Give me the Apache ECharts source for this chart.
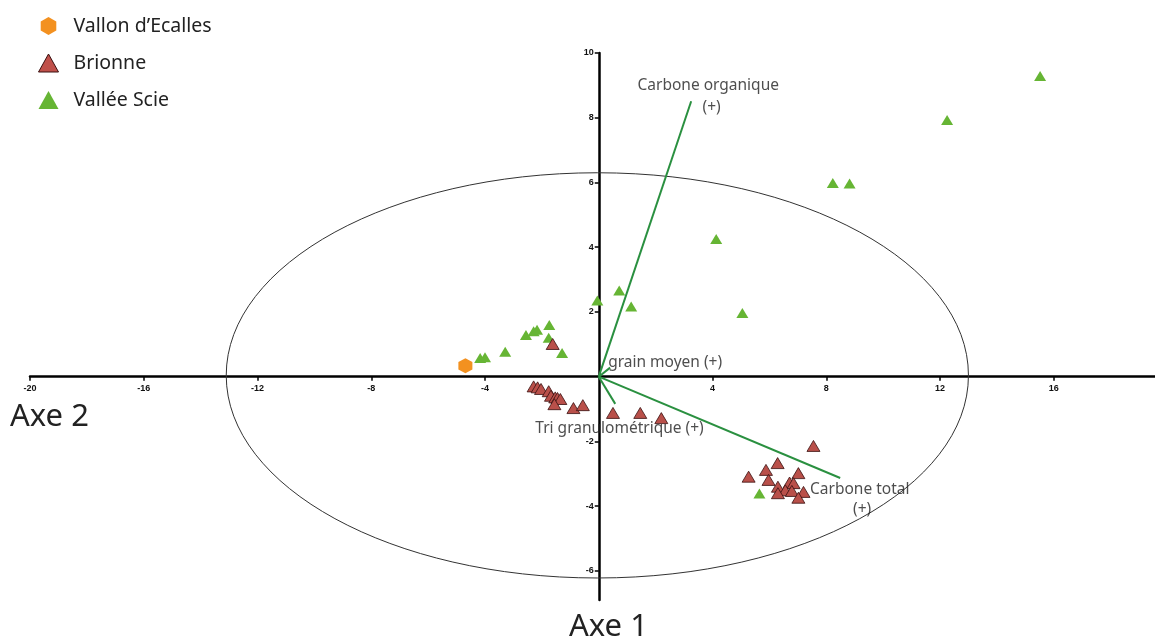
<!DOCTYPE html>
<html><head><meta charset="utf-8">
<script src="https://cdn.jsdelivr.net/npm/echarts@6/dist/echarts.min.js"></script>
<style>html,body{margin:0;padding:0;background:#fff}#c{width:1155px;height:641px}</style>
</head><body><div id="c"></div>
<script>
const seriesNames = ["Vallon d\u2019Ecalles", "Brionne", "Vallée Scie"];
const vallonPts = [[-4.69, 0.34]];
const brionnePts = [
  [-1.62, 1.01],
  [-2.29, -0.30], [-2.15, -0.33], [-2.03, -0.38], [-1.76, -0.45], [-1.68, -0.59],
  [-1.53, -0.64], [-1.45, -0.66], [-1.35, -0.69], [-1.56, -0.85], [-0.89, -0.97],
  [-0.56, -0.88], [0.50, -1.12], [1.46, -1.12], [2.20, -1.28],
  [7.55, -2.14], [6.29, -2.67], [5.88, -2.88], [5.27, -3.09], [7.02, -2.98],
  [5.97, -3.19], [6.71, -3.27], [6.85, -3.29], [6.30, -3.40], [6.56, -3.51],
  [6.79, -3.53], [7.20, -3.56], [6.30, -3.60], [7.02, -3.74]
];
const sciePts = [
  [-4.17, 0.58], [-4.00, 0.60], [-3.29, 0.77], [-2.56, 1.29], [-2.29, 1.40],
  [-2.17, 1.45], [-1.74, 1.60], [-1.76, 1.20], [-1.29, 0.73], [-0.05, 2.35],
  [0.72, 2.66], [1.14, 2.17], [4.13, 4.25], [5.05, 1.97], [8.23, 5.98],
  [8.82, 5.97], [12.25, 7.93], [15.52, 9.29], [5.65, -3.61]
];
const vectors = [
  [3.25, 8.51],
  [0.40, 0.28],
  [0.58, -0.84],
  [8.49, -3.13]
];
const vectorLabels = [
  {text: "Carbone organique", x: 3.85, y: 8.98, align: "center"},
  {text: "(+)", x: 3.97, y: 8.30, align: "center"},
  {text: "grain moyen (+)", x: 0.33, y: 0.42, align: "left"},
  {text: "Tri granulométrique (+)", x: -2.23, y: -1.61, align: "left"},
  {text: "Carbone total", x: 7.43, y: -3.50, align: "left"},
  {text: "(+)", x: 9.26, y: -4.12, align: "center"}
];
const ellipse = [[-0.05, 0.04, 13.05, 6.26]];
const xTicks = [-20, -16, -12, -8, -4, 4, 8, 12, 16];
const yTicks = [-6, -4, -2, 2, 4, 6, 8, 10];

const hexagon = 'path://M50,0 L93.3,25 L93.3,75 L50,100 L6.7,75 L6.7,25 Z';
const FONT = '"Noto Sans", "Open Sans", sans-serif';
const chart = echarts.init(document.getElementById('c'));

const series = [
  {
    type: 'custom', silent: true, z: 1,
    renderItem: function (params, api) {
      const c = api.coord([api.value(0), api.value(1)]);
      const e = api.coord([api.value(0) + api.value(2), api.value(1) + api.value(3)]);
      return {type: 'ellipse', shape: {cx: c[0], cy: c[1], rx: e[0] - c[0], ry: c[1] - e[1]},
        style: {fill: 'none', stroke: '#333', lineWidth: 1}};
    },
    data: ellipse
  }
];
vectors.forEach(function (v) {
  series.push({type: 'line', silent: true, symbol: 'none', z: 2,
    data: [[0, 0], v], lineStyle: {color: '#2a9040', width: 2}});
});
series.push({
  type: 'scatter', silent: true, symbolSize: 0, z: 3,
  data: vectorLabels.map(function (l) {
    return {value: [l.x, l.y], label: {show: true, position: 'inside', formatter: l.text,
      align: l.align, verticalAlign: 'middle', fontSize: 15.5, color: '#222', fontFamily: FONT}};
  })
});
series.push({name: seriesNames[2], type: 'scatter', symbol: 'triangle', symbolSize: [12, 10], z: 5,
  itemStyle: {color: '#66b534', opacity: 1}, data: sciePts});
series.push({name: seriesNames[1], type: 'scatter', symbol: 'triangle', symbolSize: [13, 11], z: 6,
  itemStyle: {color: '#b9504a', borderColor: '#3a1010', borderWidth: 0.8, opacity: 1}, data: brionnePts});
series.push({name: seriesNames[0], type: 'scatter', symbol: hexagon, symbolSize: [14, 15], z: 7,
  itemStyle: {color: '#f39120', opacity: 1}, data: vallonPts});

const GRID = {left: 30, right: 0, top: 53, bottom: 41};
chart.setOption({
  animation: false,
  backgroundColor: '#fff',
  grid: GRID,
  legend: {
    orient: 'vertical', left: 33, top: 11, itemWidth: 20, itemHeight: 18, itemGap: 17,
    data: [
      {name: seriesNames[0], icon: hexagon, itemStyle: {color: '#f39120'}},
      {name: seriesNames[1], icon: 'triangle', itemStyle: {color: '#c0504a', borderColor: '#3a1010', borderWidth: 1}},
      {name: seriesNames[2], icon: 'triangle', itemStyle: {color: '#66b534'}}
    ],
    textStyle: {fontSize: 19.5, lineHeight: 20, color: '#222', fontFamily: FONT, padding: [0, 0, 0, 10]}
  },
  title: [
    {text: 'Axe 2', left: 5, top: 397, textStyle: {fontSize: 31, fontWeight: 'normal', color: '#222', fontFamily: FONT}},
    {text: 'Axe 1', left: 564, top: 607, textStyle: {fontSize: 31, fontWeight: 'normal', color: '#222', fontFamily: FONT}}
  ],
  xAxis: {
    type: 'value', min: -20, max: 19.56, splitLine: {show: false},
    axisLine: {onZero: false, lineStyle: {color: '#000', width: 2.5}},
    axisTick: {show: true, length: 4, lineStyle: {width: 1.5, color: '#000'}, customValues: xTicks},
    axisLabel: {customValues: xTicks, fontSize: 9, fontWeight: 'bold', color: '#111', margin: 7, fontFamily: 'Liberation Sans, Arial, sans-serif'}
  },
  yAxis: {
    type: 'value', min: -6.9, max: 10, splitLine: {show: false},
    axisLine: {onZero: false, lineStyle: {color: '#000', width: 2.5}},
    axisTick: {show: true, length: 4, lineStyle: {width: 1.5, color: '#000'}, customValues: yTicks},
    axisLabel: {customValues: yTicks, fontSize: 9, fontWeight: 'bold', color: '#111', margin: 5, fontFamily: 'Liberation Sans, Arial, sans-serif'}
  },
  series: series
});
// move the axes so they cross at the origin
const origin = chart.convertToPixel({gridIndex: 0}, [0, 0]);
const H = chart.getHeight();
chart.setOption({
  xAxis: {offset: -((H - GRID.bottom) - origin[1])},
  yAxis: {offset: -(origin[0] - GRID.left)}
});
</script>
</body></html>
